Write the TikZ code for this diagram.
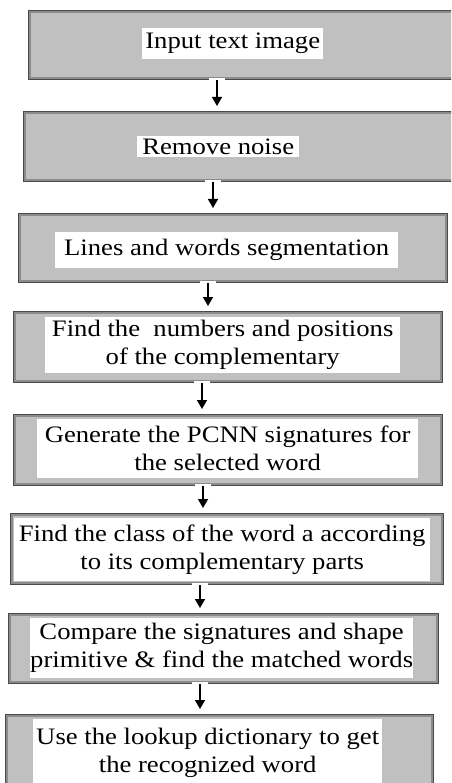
\documentclass[tikz,border=0pt]{standalone}
\usepackage{fontspec}
\setmainfont{Liberation Serif}[FakeStretch=1.13]
\usetikzlibrary{arrows.meta}
\definecolor{boxgray}{HTML}{C0C0C0}
\definecolor{edgedark}{HTML}{4A4A4A}
\definecolor{edgemid}{HTML}{8C8C8C}
\tikzset{
  outerbox/.style={rectangle, fill=boxgray, draw=edgedark, line width=1.4pt,
    inner sep=0pt, anchor=north west,
    path picture={\draw[edgemid, line width=2pt]
      ([shift={(1.7pt,1.7pt)}]path picture bounding box.south west) rectangle
      ([shift={(-1.7pt,-1.7pt)}]path picture bounding box.north east);}},
  labelbox/.style={rectangle, fill=white, inner sep=0pt, anchor=north west,
    align=center, font=\fontsize{23.6}{28}\selectfont},
  arr/.style={line width=1.4pt, -{Triangle[width=10pt,length=9pt]},
    shorten >=5pt,
    preaction={draw=white, line width=16pt, -, shorten <=-2pt, shorten >=16pt}}
}
\begin{document}
\begin{tikzpicture}[x=1pt,y=-1pt]
\clip (0,0) rectangle (451,783);
\fill[white] (0,0) rectangle (451,783);
% outer boxes
\node[outerbox, minimum width=440pt, minimum height=69pt] (b1) at (28,10) {};
\node[outerbox, minimum width=440pt, minimum height=70pt] (b2) at (23,111) {};
\node[outerbox, minimum width=429pt, minimum height=69pt] (b3) at (18,213) {};
\node[outerbox, minimum width=429pt, minimum height=71pt] (b4) at (13,311) {};
\node[outerbox, minimum width=429pt, minimum height=71pt] (b5) at (13,414) {};
\node[outerbox, minimum width=433pt, minimum height=71pt] (b6) at (10,513) {};
\node[outerbox, minimum width=430pt, minimum height=70pt] (b7) at (8,613) {};
\node[outerbox, minimum width=428pt, minimum height=95pt] (b8) at (5,714) {};
% white label panels
\node[labelbox, minimum width=181pt, minimum height=31pt] (t1) at (142,28) {Input text image};
\node[labelbox, minimum width=162pt, minimum height=21pt] (t2) at (137,136) {Remove noise};
\node[labelbox, minimum width=343pt, minimum height=36pt] (t3) at (55,232) {Lines and words segmentation};
\node[labelbox, minimum width=355pt, minimum height=56pt] (t4) at (45,317) {Find the~ numbers and positions\\of the complementary};
\node[labelbox, minimum width=381pt, minimum height=59pt] (t5) at (37,419) {Generate the PCNN signatures for\\the selected word};
\node[labelbox, minimum width=416pt, minimum height=63pt] (t6) at (14,518) {Find the class of the word a according\\to its complementary parts};
\node[labelbox, minimum width=378pt, minimum height=60pt] (t7) at (30,618) {Compare the signatures and shape\\primitive \& find the matched words};
\node[labelbox, minimum width=349pt, minimum height=68pt] (t8) at (33,719) {Use the lookup dictionary to get\\the recognized word};
% arrow columns
\coordinate (a1) at (217,0);
\coordinate (a2) at (213,0);
\coordinate (a3) at (208,0);
\coordinate (a4) at (202,0);
\coordinate (a5) at (203,0);
\coordinate (a6) at (200,0);
\coordinate (a7) at (200,0);
\draw[arr] (b1.south -| a1) -- (b2.north -| a1);
\draw[arr] (b2.south -| a2) -- (b3.north -| a2);
\draw[arr] (b3.south -| a3) -- (b4.north -| a3);
\draw[arr] (b4.south -| a4) -- (b5.north -| a4);
\draw[arr] (b5.south -| a5) -- (b6.north -| a5);
\draw[arr] (b6.south -| a6) -- (b7.north -| a6);
\draw[arr] (b7.south -| a7) -- (b8.north -| a7);
\end{tikzpicture}
\end{document}
